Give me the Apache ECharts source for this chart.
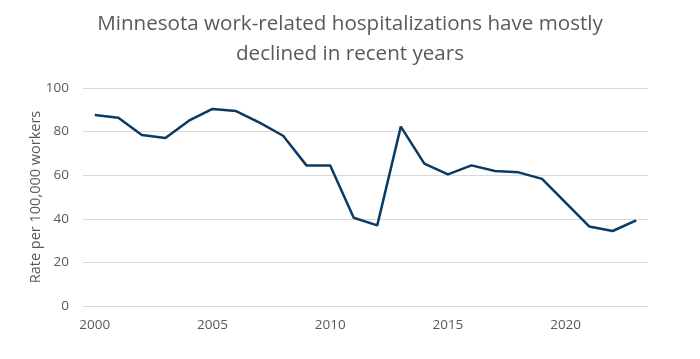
<!DOCTYPE html>
<html><head><meta charset="utf-8">
<script src="https://cdn.jsdelivr.net/npm/echarts@6/dist/echarts.min.js"></script>
<style>html,body{margin:0;padding:0;background:#fff}#c{width:700px;height:359px}</style>
</head><body><div id="c"></div>
<script>
const years = ['2000','2001','2002','2003','2004','2005','2006','2007','2008','2009','2010','2011','2012','2013','2014','2015','2016','2017','2018','2019','2020','2021','2022','2023'];
const rates = [87.6,86.4,78.4,77.1,85.0,90.4,89.4,84.1,78.1,64.4,64.5,40.5,37.0,82.3,65.3,60.4,64.5,61.9,61.3,58.3,47.4,36.5,34.4,39.3];
const yTicks = [0,20,40,60,80,100];
const titleText = 'Minnesota work-related hospitalizations have mostly\ndeclined in recent years';
const yName = 'Rate per 100,000 workers';
const font = 'Open Sans';
const chart = echarts.init(document.getElementById('c'));
chart.setOption({
  animation:false,
  title:{text:titleText,left:'center',top:4,textStyle:{fontFamily:font,fontSize:20.6,fontWeight:'normal',color:'#595959',lineHeight:30}},
  grid:{left:83,right:52,top:88,bottom:53},
  xAxis:{type:'category',data:years,boundaryGap:true,
    axisLine:{show:false},axisTick:{show:false},
    axisLabel:{interval:4,color:'#595959',fontFamily:font,fontSize:13.5,margin:12}},
  yAxis:{type:'value',min:yTicks[0],max:yTicks[yTicks.length-1],interval:20,
    name:yName,nameLocation:'middle',nameGap:40,nameMoveOverlap:false,nameTextStyle:{fontFamily:font,fontSize:14.5,color:'#595959'},
    axisLabel:{color:'#595959',fontFamily:font,fontSize:13.5,margin:14},
    splitLine:{lineStyle:{color:'#d9d9d9',width:1}}},
  series:[{type:'line',data:rates,symbol:'none',lineStyle:{color:'#0b3b63',width:2.5}}]
});
</script></body></html>
